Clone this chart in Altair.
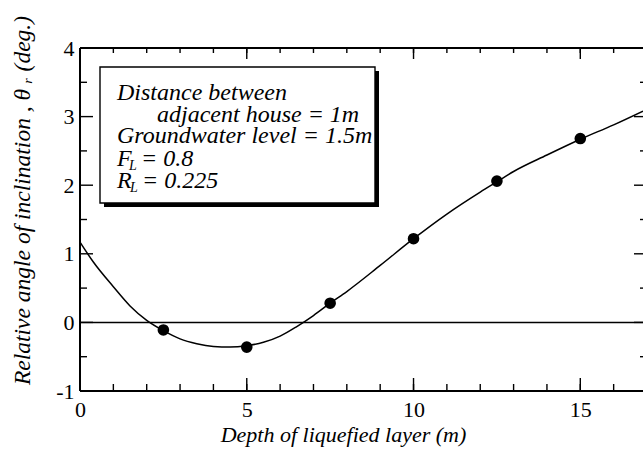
import altair as alt
import pandas as pd

# Measured points: depth of liquefied layer (m) vs relative inclination angle (deg.)
depth_pts = [2.5, 5.0, 7.5, 10.0, 12.5, 15.0]
angle_pts = [-0.11, -0.36, 0.28, 1.22, 2.06, 2.68]

# Fitted curve through the measurements
curve_depth = [0, 0.4, 1, 1.5, 2, 2.5, 3, 3.5, 4, 4.5, 5, 5.5, 6, 6.5, 7, 7.5,
               8, 9, 10, 11, 12, 12.5, 13, 14, 15, 16, 16.88]
curve_angle = [1.17, 0.88, 0.52, 0.24, 0.03, -0.12, -0.24, -0.31, -0.35, -0.36,
               -0.34, -0.29, -0.2, -0.06, 0.1, 0.28, 0.45, 0.83, 1.22, 1.58,
               1.9, 2.05, 2.2, 2.44, 2.67, 2.88, 3.08]

# Axis ticks
x_major = [0, 5, 10, 15]
x_minor = list(range(0, 17))
y_major = [-1, 0, 1, 2, 3, 4]
y_minor = [-0.5, 0.5, 1.5, 2.5, 3.5]

W, H = 563, 343
SERIF = "'Liberation Serif', 'Times New Roman', Times, 'DejaVu Serif', serif"

xscale = alt.Scale(domain=[0, 16.88], nice=False, zero=False)
yscale = alt.Scale(domain=[-1, 4], nice=False, zero=False)

xaxis = alt.Axis(
    values=x_major, title="Depth of liquefied layer (m)", domain=False, ticks=False,
    tickSize=0, grid=False, labelFont=SERIF, labelFontSize=22, labelPadding=8,
    labelColor="black", labelFlush=False, labelOverlap=False,
    labelExpr="'' + datum.value",
    titleFont=SERIF, titleFontSize=22, titleFontStyle="italic",
    titleFontWeight="normal", titleColor="black", titleX=263, titleY=50,
    titleBaseline="alphabetic", titleAlign="center",
)
yaxis = alt.Axis(
    values=y_major, title="Relative angle of inclination , \u03b8 \u1d63 (deg.)",
    domain=False, ticks=False, tickSize=0, grid=False, labelFont=SERIF,
    labelFontSize=22, labelPadding=6, labelColor="black", labelFlush=False,
    labelOverlap=False, labelExpr="'' + datum.value",
    titleFont=SERIF, titleFontSize=23.5, titleFontStyle="italic",
    titleFontWeight="normal", titleColor="black", titleAngle=270,
    titleX=-51, titleY=152, titleBaseline="alphabetic", titleAlign="center",
)


def xf(field):
    return alt.X(field, type="quantitative", scale=xscale, axis=xaxis)


def yf(field):
    return alt.Y(field, type="quantitative", scale=yscale, axis=yaxis)


def xd(v):
    return alt.XDatum(v, type="quantitative", scale=xscale, axis=xaxis)


def yd(v):
    return alt.YDatum(v, type="quantitative", scale=yscale, axis=yaxis)


one = alt.Data(values=[{}])
pts = pd.DataFrame({"depth": depth_pts, "angle": angle_pts})
curve = pd.DataFrame({"depth": curve_depth, "angle": curve_angle})
xmaj = pd.DataFrame({"v": x_major})
xmin = pd.DataFrame({"v": x_minor})
ymaj = pd.DataFrame({"v": y_major})
ymin = pd.DataFrame({"v": y_minor})

layers = []

# frame and zero line
for enc in [dict(x=xd(0)), dict(y=yd(-1)), dict(y=yd(4))]:
    layers.append(alt.Chart(one).mark_rule(color="black", strokeWidth=2).encode(**enc))
layers.append(alt.Chart(one).mark_rule(color="black", strokeWidth=1.5).encode(y=yd(0)))

# inward ticks
tick = dict(color="black", strokeWidth=1.4)
layers += [
    alt.Chart(xmaj).mark_rule(**tick).encode(x=xf("v"), y=alt.value(H), y2=alt.value(H - 13)),
    alt.Chart(xmin).mark_rule(**tick).encode(x=xf("v"), y=alt.value(H), y2=alt.value(H - 7)),
    alt.Chart(xmaj).mark_rule(**tick).encode(x=xf("v"), y=alt.value(0), y2=alt.value(11)),
    alt.Chart(xmin).mark_rule(**tick).encode(x=xf("v"), y=alt.value(0), y2=alt.value(5)),
    alt.Chart(ymaj).mark_rule(**tick).encode(y=yf("v"), x=alt.value(0), x2=alt.value(13)),
    alt.Chart(ymin).mark_rule(**tick).encode(y=yf("v"), x=alt.value(0), x2=alt.value(7)),
    alt.Chart(ymaj).mark_rule(**tick).encode(y=yf("v"), x=alt.value(W - 9), x2=alt.value(W)),
    alt.Chart(ymin).mark_rule(**tick).encode(y=yf("v"), x=alt.value(W - 3), x2=alt.value(W)),
]

# fitted curve and measured points
layers.append(
    alt.Chart(curve).mark_line(color="black", strokeWidth=1.5, interpolate="monotone")
    .encode(x=xf("depth"), y=yf("angle"))
)
layers.append(
    alt.Chart(pts).mark_point(filled=True, shape="circle", size=135, color="black", opacity=1)
    .encode(x=xf("depth"), y=yf("angle"))
)

# annotation box with drop shadow
layers.append(
    alt.Chart(one).mark_rect(color="black").encode(
        x=alt.value(24), x2=alt.value(299), y=alt.value(23), y2=alt.value(159))
)
layers.append(
    alt.Chart(one).mark_rect(fill="white", stroke="black", strokeWidth=1.4).encode(
        x=alt.value(20), x2=alt.value(295), y=alt.value(19), y2=alt.value(155))
)


def label(text, x, y, size=24):
    return alt.Chart(one).mark_text(
        text=text, align="left", baseline="alphabetic", font=SERIF,
        fontStyle="italic", fontSize=size, color="black",
    ).encode(x=alt.value(x), y=alt.value(y))


layers += [
    label("Distance between", 37, 52),
    label("adjacent house = 1m", 77, 74),
    label("Groundwater level = 1.5m", 37, 95),
    label("F", 37, 118),
    label("L", 49, 122, 14),
    label("= 0.8", 61, 118),
    label("R", 37, 140),
    label("L", 50, 144, 14),
    label("= 0.225", 62, 140),
]

chart = alt.layer(*layers).properties(
    width=W, height=H,
    autosize=alt.AutoSizeParams(type="none"),
    padding={"left": 80, "top": 48, "right": 0, "bottom": 75},
    background="white",
).configure_view(stroke=None)

chart.save("out.html", embed_options={"renderer": "svg", "actions": False})
